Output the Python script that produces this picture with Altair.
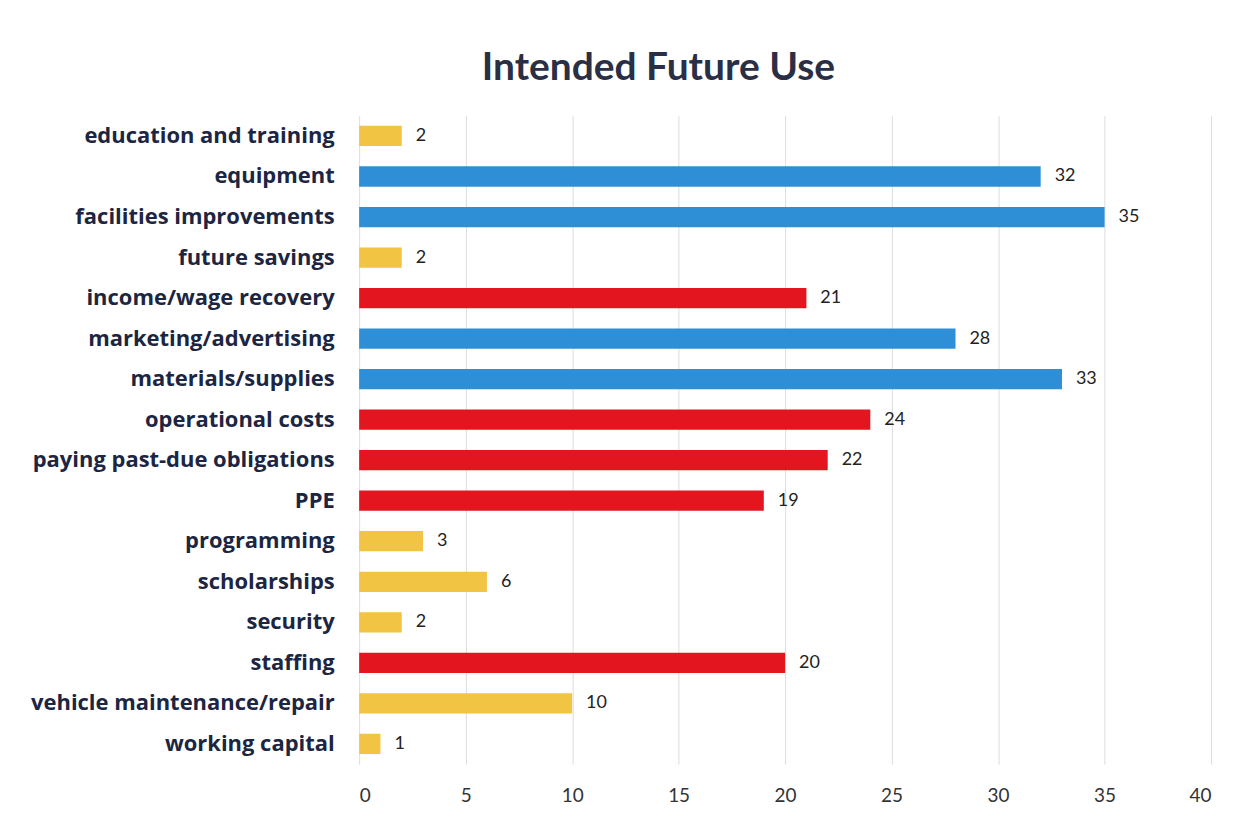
import altair as alt
import pandas as pd

categories = [
    "education and training", "equipment", "facilities improvements", "future savings",
    "income/wage recovery", "marketing/advertising", "materials/supplies", "operational costs",
    "paying past-due obligations", "PPE", "programming", "scholarships", "security",
    "staffing", "vehicle maintenance/repair", "working capital",
]
values = [2, 32, 35, 2, 21, 28, 33, 24, 22, 19, 3, 6, 2, 20, 10, 1]
groups = ["yellow", "blue", "blue", "yellow", "red", "blue", "blue", "red",
          "red", "red", "yellow", "yellow", "yellow", "red", "yellow", "yellow"]
group_names = ["yellow", "blue", "red"]
group_colors = ["#F2C443", "#2F8FD6", "#E3161F"]
x_ticks = [0, 5, 10, 15, 20, 25, 30, 35, 40]

df = pd.DataFrame({"category": categories, "value": values, "group": groups})

FONT = "Lato"
LABEL_FONT = "Open Sans"
TXT = "#1c2541"

base = alt.Chart(df)

bars = base.mark_bar().encode(
    y=alt.Y("category:N", sort=None, title=None,
            scale=alt.Scale(paddingInner=0.5, paddingOuter=0.25),
            axis=alt.Axis(labelFont=LABEL_FONT, labelFontSize=22, labelFontWeight="bold",
                          labelColor=TXT, labelPadding=25, ticks=False, domain=False,
                          labelLimit=400)),
    x=alt.X("value:Q", title=None,
            scale=alt.Scale(domain=[0, 40]),
            axis=alt.Axis(values=x_ticks, labelFont=FONT, labelFontSize=19,
                          labelColor="#333333", labelPadding=22, ticks=False, domain=False,
                          grid=True, gridColor="#dcdcdc", gridWidth=1)),
    color=alt.Color("group:N", scale=alt.Scale(domain=group_names, range=group_colors),
                    legend=None),
)

labels = base.mark_text(align="left", baseline="middle", dx=14, font=FONT,
                        fontSize=18, color="#222222").encode(
    y=alt.Y("category:N", sort=None),
    x=alt.X("value:Q"),
    text=alt.Text("value:Q"),
)

chart = (bars + labels).properties(
    width=854,
    height=650,
    title=alt.Title("Intended Future Use", font=FONT, fontSize=39, fontWeight="bold",
                    color="#2a2f45", anchor="middle", dx=-127, offset=28),
).configure_view(stroke=None).properties(
    autosize=alt.AutoSizeParams(type="none"),
    padding={"left": 352, "top": 107, "right": 30, "bottom": 40},
)

chart.save("out.html", embed_options={"renderer": "svg", "actions": False})
